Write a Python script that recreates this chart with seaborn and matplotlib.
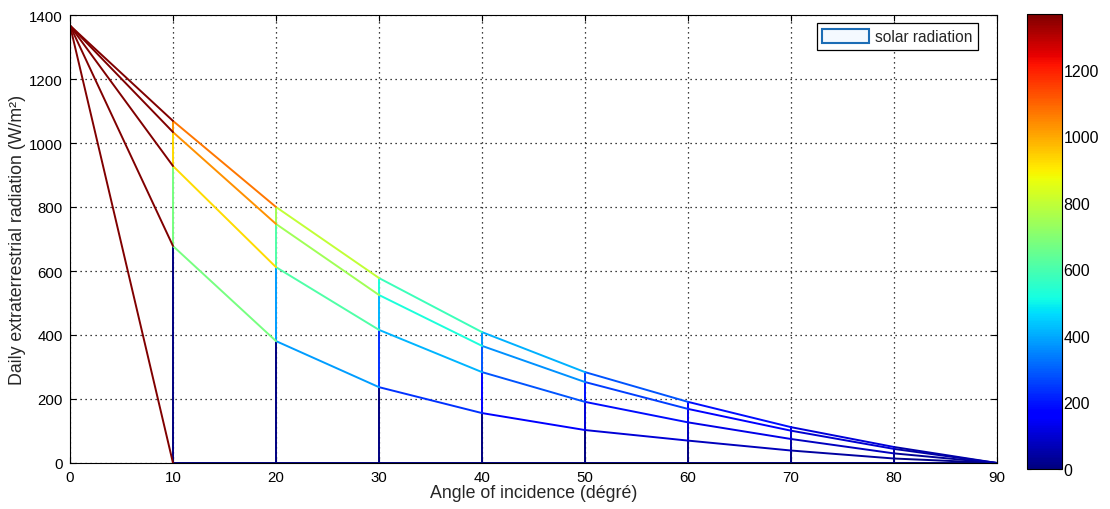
import numpy as np
import pandas as pd
import matplotlib
matplotlib.use("Agg")
import matplotlib.pyplot as plt
from matplotlib.patches import Patch
from matplotlib.colors import Normalize
from matplotlib.cm import ScalarMappable
import seaborn as sns

# Angle of incidence grid (degrees)
angles = [0, 10, 20, 30, 40, 50, 60, 70, 80, 90]

# Radiation mesh rows (W/m^2), one row per curve
row0 = [1367, 0, 0, 0, 0, 0, 0, 0, 0, 0]
row1 = [1367, 678, 381, 237, 156, 103, 70, 39, 14, 0]
row2 = [1367, 928, 612, 416, 284, 191, 127, 75, 30, 0]
row3 = [1367, 1034, 747, 525, 366, 253, 169, 101, 44, 0]
row4 = [1367, 1069, 800, 578, 409, 284, 191, 112, 50, 0]

x_ticks = [0, 10, 20, 30, 40, 50, 60, 70, 80, 90]
y_ticks = [0, 200, 400, 600, 800, 1000, 1200, 1400]
cbar_ticks = [0, 200, 400, 600, 800, 1000, 1200]
z_max = 1367

rows = [row0, row1, row2, row3, row4]

# Mesh edges: each edge takes the colour value of its starting vertex
records = []
seg = 0
for r in rows:
    for c in range(len(angles) - 1):
        records.append((seg, angles[c], r[c], r[c]))
        records.append((seg, angles[c + 1], r[c + 1], r[c]))
        seg += 1
for c in range(len(angles)):
    for k in range(len(rows) - 1):
        lo, hi = rows[k][c], rows[k + 1][c]
        if lo == hi:
            continue
        records.append((seg, angles[c], lo, lo))
        records.append((seg, angles[c], hi, lo))
        seg += 1
edges = pd.DataFrame(records, columns=["seg", "angle", "rad", "cval"])

jet = matplotlib.colormaps["jet"]

sns.set_style("ticks")
plt.rcParams["font.family"] = ["Liberation Sans", "DejaVu Sans"]
plt.rcParams["font.size"] = 10

fig = plt.figure(figsize=(11.1, 5.1), dpi=100)
ax = fig.add_axes([70 / 1110, 1 - 464 / 510, 927 / 1110, 448 / 510])

ax.grid(True, linestyle=(0, (1, 3)), color="black", linewidth=0.9)
ax.set_axisbelow(True)

sns.lineplot(data=edges, x="angle", y="rad", units="seg", estimator=None,
             hue="cval", palette=jet, hue_norm=Normalize(0, z_max), sort=False,
             legend=False, linewidth=1.4, ax=ax)

ax.set_xlim(0, 90)
ax.set_ylim(0, 1400)
ax.set_xticks(x_ticks)
ax.set_yticks(y_ticks)
ax.tick_params(direction="in", length=4, top=True, right=True,
               labelsize=10.8, colors="black", pad=5)
for s in ax.spines.values():
    s.set_color("black")
    s.set_linewidth(0.8)

ax.set_xlabel("Angle of incidence (dégré)", fontsize=12.8, labelpad=0)
ax.set_ylabel("Daily extraterrestrial radiation (W/m²)", fontsize=12.8, labelpad=2)

handle = Patch(facecolor="#f4f9ff", edgecolor="#1c6db5", linewidth=1.5)
leg = ax.legend(handles=[handle], labels=["solar radiation"],
                loc="upper right", bbox_to_anchor=(0.9795, 0.982),
                borderaxespad=0, fancybox=False, framealpha=1,
                edgecolor="black", fontsize=11.2, handlelength=3.0,
                handleheight=1.1, handletextpad=0.4, borderpad=0.35)
leg.get_frame().set_linewidth(0.9)

cax = fig.add_axes([1027 / 1110, 1 - 470 / 510, 35 / 1110, 455 / 510])
sm = ScalarMappable(norm=Normalize(0, z_max), cmap=jet)
cb = fig.colorbar(sm, cax=cax)
cb.set_ticks(cbar_ticks)
cb.outline.set_edgecolor("black")
cb.outline.set_linewidth(0.8)
cax.tick_params(direction="in", left=True, right=True, length=3, pad=1,
                labelsize=11.5, colors="black")

fig.savefig("out.png", dpi=100)
